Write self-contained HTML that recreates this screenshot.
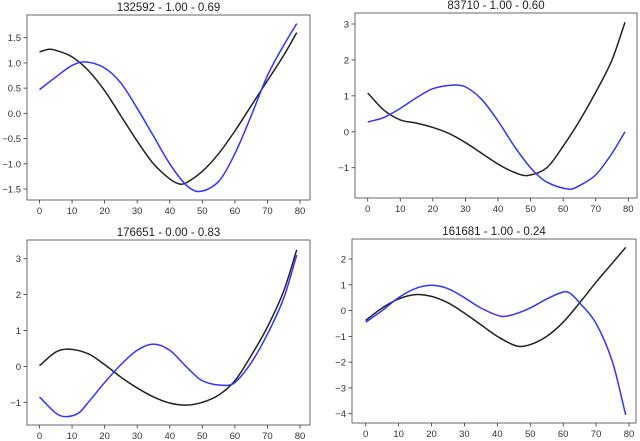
<!DOCTYPE html>
<html><head><meta charset="utf-8"><style>
html,body{margin:0;padding:0;background:#fff;}
svg{display:block;font-family:"Liberation Sans","DejaVu Sans",sans-serif;}
</style></head><body>
<svg id="fig" width="640" height="441"></svg>
<script>
const xs1=[0,3,5,10,15,20,25,30,35,40,43,45,50,55,60,65,70,75,79];
const black1=[1.22,1.27,1.25,1.12,0.85,0.45,-0.05,-0.55,-1.0,-1.3,-1.4,-1.38,-1.15,-0.8,-0.35,0.15,0.65,1.15,1.6];
const xsB1=[0,5,10,14,20,25,30,35,40,45,49,55,60,65,70,75,79];
const blue1=[0.47,0.72,0.95,1.02,0.9,0.6,0.1,-0.45,-1.0,-1.42,-1.55,-1.35,-0.8,-0.05,0.75,1.35,1.78];
const xs2=[0,5,10,15,20,25,30,35,40,45,49,55,60,65,70,75,79];
const black2=[1.08,0.6,0.33,0.24,0.12,-0.05,-0.3,-0.6,-0.9,-1.13,-1.22,-1.0,-0.4,0.3,1.1,2.0,3.05];
const xsB2=[0,5,10,15,20,26,30,35,40,45,50,55,62,65,70,75,79];
const blue2=[0.27,0.4,0.65,0.95,1.2,1.3,1.25,0.9,0.3,-0.4,-1.0,-1.4,-1.6,-1.5,-1.2,-0.6,0.0];
const xs3=[0,5,9,15,20,25,30,35,40,45,50,55,60,65,70,75,79];
const black3=[0.02,0.4,0.48,0.35,0.05,-0.3,-0.6,-0.85,-1.02,-1.08,-1.0,-0.8,-0.4,0.3,1.1,2.1,3.25];
const xsB3=[0,5,8,12,15,20,25,30,35,40,45,50,57,60,65,70,75,79];
const blue3=[-0.85,-1.3,-1.4,-1.3,-1.0,-0.45,0.05,0.45,0.62,0.45,0.0,-0.4,-0.53,-0.45,0.1,0.9,1.9,3.1];
const xs4=[0,5,10,15,20,25,30,35,40,46,50,55,60,65,70,75,79];
const black4=[-0.38,0.1,0.45,0.62,0.55,0.3,-0.1,-0.55,-1.0,-1.38,-1.32,-1.0,-0.45,0.3,1.1,1.85,2.45];
const xsB4=[0,5,10,15,20,25,30,35,41,45,50,55,60,62,65,70,75,79];
const blue4=[-0.45,0.0,0.5,0.85,0.98,0.85,0.5,0.1,-0.22,-0.15,0.1,0.45,0.72,0.68,0.3,-0.5,-2.0,-4.05];
const xticks=[0,10,20,30,40,50,60,70,80];
const yt1=[-1.5,-1.0,-0.5,0.0,0.5,1.0,1.5], yl1=["\u22121.5","\u22121.0","\u22120.5","0.0","0.5","1.0","1.5"];
const yt2=[-1,0,1,2,3], yl2=["\u22121","0","1","2","3"];
const yt3=[-1,0,1,2,3], yl3=["\u22121","0","1","2","3"];
const yt4=[-4,-3,-2,-1,0,1,2], yl4=["\u22124","\u22123","\u22122","\u22121","0","1","2"];
const titles=["132592 - 1.00 - 0.69","83710 - 1.00 - 0.60","176651 - 0.00 - 0.83","161681 - 1.00 - 0.24"];

const NS="http://www.w3.org/2000/svg";
const svg=document.getElementById('fig');
function mk(t,a,p){const e=document.createElementNS(NS,t);for(const k in a)e.setAttribute(k,a[k]);(p||svg).appendChild(e);return e;}
function path(pts){
 const n=pts.length,m=[];
 for(let i=0;i<n;i++){const a=pts[Math.max(0,i-1)],c=pts[Math.min(n-1,i+1)];m.push((c[1]-a[1])/(c[0]-a[0]));}
 let d="M"+pts[0][0].toFixed(2)+","+pts[0][1].toFixed(2);
 for(let i=0;i<n-1;i++){const p1=pts[i],p2=pts[i+1],dx=(p2[0]-p1[0])/3;
  d+=" C"+(p1[0]+dx).toFixed(2)+","+(p1[1]+m[i]*dx).toFixed(2)+" "+(p2[0]-dx).toFixed(2)+","+(p2[1]-m[i+1]*dx).toFixed(2)+" "+p2[0].toFixed(2)+","+p2[1].toFixed(2);}
 return d;}
const panels=[
 {box:[27,15,310,200],x0:39.5,x80:300,yA:[1.5,37.7],yB:[-1.5,189],yt:yt1,yl:yl1,k:xs1,b:black1,kb:xsB1,bl:blue1},
 {box:[355,13,637,198],x0:367.7,x80:628.3,yA:[3,24],yB:[-1,167.7],yt:yt2,yl:yl2,k:xs2,b:black2,kb:xsB2,bl:blue2},
 {box:[27,240,310,425],x0:39.5,x80:300,yA:[3,258.7],yB:[-1,402.3],yt:yt3,yl:yl3,k:xs3,b:black3,kb:xsB3,bl:blue3},
 {box:[352,239,636,423],x0:365.7,x80:629,yA:[2,259],yB:[-4,413.7],yt:yt4,yl:yl4,k:xs4,b:black4,kb:xsB4,bl:blue4}];
panels.forEach((P,i)=>{
 const g=mk('g',{});
 
 
 const X=v=>P.x0+(P.x80-P.x0)*v/80;
 const Y=v=>P.yA[1]+(P.yB[1]-P.yA[1])*(v-P.yA[0])/(P.yB[0]-P.yA[0]);
 const [l,t,r,b]=P.box;
 const tt=mk('text',{x:(l+r)/2,y:t-4,'text-anchor':'middle','font-size':11.5,fill:'#222'},g);tt.textContent=titles[i];
 
 
 xticks.forEach(v=>{mk('line',{x1:X(v),x2:X(v),y1:b,y2:b+3.5,stroke:'#333','stroke-width':0.8},g);const tx=mk('text',{x:X(v),y:b+14,'text-anchor':'middle','font-size':9.5,fill:'#333'},g);tx.textContent=v;
  
  });
 P.yt.forEach((v,j)=>{mk('line',{x1:l-3.5,x2:l,y1:Y(v),y2:Y(v),stroke:'#333','stroke-width':0.8},g);const tx=mk('text',{x:l-6,y:Y(v)+3.5,'text-anchor':'end','font-size':9.5,fill:'#333'},g);tx.textContent=P.yl[j];
  
  });
 const bp=mk('path',{d:path(P.k.map((x,j)=>[X(x),Y(P.b[j])])),fill:'none',stroke:'#222','stroke-width':1.5},g);
 
 
 const lp=mk('path',{d:path(P.kb.map((x,j)=>[X(x),Y(P.bl[j])])),fill:'none',stroke:'#3333ff','stroke-width':1.5},g);
 
 
 const fr=mk('rect',{x:l,y:t,width:r-l,height:b-t,fill:'none',stroke:'#444','stroke-width':0.8},g);
 
 
});
</script>
</body></html>
